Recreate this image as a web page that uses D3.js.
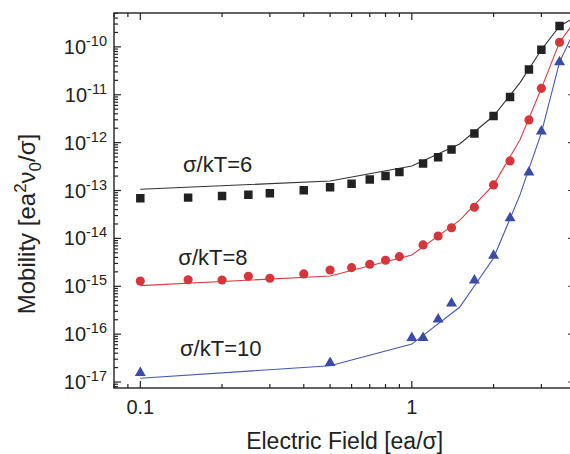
<!DOCTYPE html>
<html>
<head>
<meta charset="utf-8">
<script src="https://cdn.jsdelivr.net/npm/d3@7"></script>
<style>
  html, body { margin: 0; padding: 0; background: #fff; }
  svg { display: block; font-family: "Liberation Sans", Arial, sans-serif; }
</style>
</head>
<body>
<div id="chart"></div>
<script>
// Simulation points (x = electric field)
const fieldSim = [0.1, 0.15, 0.2, 0.25, 0.3, 0.4, 0.5, 0.6, 0.7, 0.8, 0.9, 1.1, 1.25, 1.4, 1.7, 2.0, 2.3, 2.7, 3.0, 3.5];
const mobS6 = [6.9e-14, 7.1e-14, 7.7e-14, 8.2e-14, 8.8e-14, 1.01e-13, 1.17e-13, 1.39e-13, 1.69e-13, 2.0e-13, 2.42e-13,
               3.65e-13, 4.96e-13, 7.15e-13, 1.55e-12, 3.61e-12, 9.0e-12, 3.36e-11, 8.7e-11, 2.72e-10];
const mobS8 = [1.29e-15, 1.37e-15, 1.35e-15, 1.62e-15, 1.47e-15, 1.81e-15, 2.19e-15, 2.45e-15, 2.88e-15, 3.49e-15, 4.16e-15,
               7.3e-15, 1.12e-14, 1.67e-14, 4.47e-14, 1.31e-13, 4.15e-13, 2.98e-12, 1.36e-11, 1.25e-10];
const fieldS10 = [0.1, 0.5, 1.0, 1.1, 1.25, 1.4, 1.7, 2.0, 2.3, 2.7, 3.0, 3.5];
const mobS10 = [1.55e-17, 2.53e-17, 8.4e-17, 8.4e-17, 2.04e-16, 4.41e-16, 1.33e-15, 4.37e-15, 2.64e-14, 2.41e-13, 1.73e-12, 4.79e-11];

// Theory curves
const fieldTh = [0.1, 0.5, 1.0, 1.5, 2.0, 2.5, 3.0, 3.5, 4.0];
const thS6 = [1.06e-13, 1.58e-13, 3.26e-13, 9.4e-13, 3.6e-12, 1.77e-11, 8.7e-11, 2.7e-10, 4.2e-10];
const thS8 = [1.03e-15, 1.64e-15, 4.5e-15, 2.37e-14, 1.31e-13, 1.14e-12, 1.36e-11, 1.25e-10, 3.5e-10];
const thS10 = [1.2e-17, 2.19e-17, 6.2e-17, 3.64e-16, 3.9e-15, 8e-14, 1.6e-12, 4.8e-11, 2.4e-10];

const xMajor = [0.1, 1];
const xTickLabels = ["0.1", "1"];
const yExponents = [-17, -16, -15, -14, -13, -12, -11, -10];
const seriesLabels = ["σ/kT=6", "σ/kT=8", "σ/kT=10"];

const W = 570, H = 454;
const margin = { top: 13, left: 114, bottom: 66 };
const plotRight = 575.3;
const plotBottom = H - margin.bottom;

const svg = d3.select("#chart").append("svg")
    .attr("width", W).attr("height", H);

const xScale = d3.scaleLog().domain([0.08, 4]).range([margin.left, plotRight]);
const yScale = d3.scaleLog().domain([7.5e-18, 5.1e-10]).range([plotBottom, margin.top]);

svg.append("clipPath").attr("id", "clip")
  .append("rect")
    .attr("x", margin.left).attr("y", margin.top)
    .attr("width", plotRight - margin.left).attr("height", plotBottom - margin.top);

// frame
const axisColor = "#222";
svg.append("rect")
    .attr("x", margin.left).attr("y", margin.top)
    .attr("width", plotRight - margin.left).attr("height", plotBottom - margin.top)
    .attr("fill", "none").attr("stroke", axisColor).attr("stroke-width", 1.4);

const isMajor = v => Math.abs(Math.log10(v) - Math.round(Math.log10(v))) < 1e-6;

// ticks (inward on all four sides)
const ticksG = svg.append("g").attr("stroke", axisColor).attr("stroke-width", 1.2);
xScale.ticks().forEach(v => {
    const x = xScale(v), len = isMajor(v) ? 7 : 4;
    ticksG.append("line").attr("x1", x).attr("x2", x).attr("y1", plotBottom).attr("y2", plotBottom - len);
    ticksG.append("line").attr("x1", x).attr("x2", x).attr("y1", margin.top).attr("y2", margin.top + len);
});
yScale.ticks().forEach(v => {
    const y = yScale(v), len = isMajor(v) ? 7 : 4;
    ticksG.append("line").attr("x1", margin.left).attr("x2", margin.left + len).attr("y1", y).attr("y2", y);
    ticksG.append("line").attr("x1", plotRight).attr("x2", plotRight - len).attr("y1", y).attr("y2", y);
});

// tick labels
xMajor.forEach((v, i) => {
    svg.append("text")
        .attr("x", xScale(v)).attr("y", plotBottom + 26)
        .attr("text-anchor", "middle")
        .style("font-size", "20px").attr("fill", "#222")
        .text(xTickLabels[i]);
});
yExponents.forEach(e => {
    const t = svg.append("text")
        .attr("x", 107).attr("y", yScale(Math.pow(10, e)) + 7)
        .attr("text-anchor", "end")
        .style("font-size", "20px").attr("fill", "#222");
    t.append("tspan").text("10");
    t.append("tspan").attr("dy", -8).style("font-size", "14.5px").text(String(e));
});

// axis titles
svg.append("text")
    .attr("x", (margin.left + plotRight) / 2).attr("y", 449)
    .attr("text-anchor", "middle")
    .style("font-size", "23px").attr("fill", "#222")
    .text("Electric Field [ea/σ]");

const yt = svg.append("text")
    .attr("transform", "translate(35, 224) rotate(-90)")
    .attr("text-anchor", "middle")
    .style("font-size", "24px").attr("fill", "#222");
yt.append("tspan").text("Mobility [ea");
yt.append("tspan").attr("dy", -9).style("font-size", "17px").text("2");
yt.append("tspan").attr("dy", 9).text("ν");
yt.append("tspan").attr("dy", 6).style("font-size", "17px").text("0");
yt.append("tspan").attr("dy", -6).text("/σ]");

// series
const series = [
    { sim: fieldSim, simY: mobS6, th: thS6, color: "#222222", line: "#333333", shape: d3.symbolSquare, size: 72 },
    { sim: fieldSim, simY: mobS8, th: thS8, color: "#d6353b", line: "#dc3c42", shape: d3.symbolCircle, size: 66 },
    { sim: fieldS10, simY: mobS10, th: thS10, color: "#3a4ca8", line: "#4557b3", shape: d3.symbolTriangle, size: 52 }
];

const line = d3.line().x(d => xScale(d[0])).y(d => yScale(d[1]));
const plotG = svg.append("g").attr("clip-path", "url(#clip)");

series.forEach(s => {
    plotG.append("path")
        .datum(fieldTh.map((f, i) => [f, s.th[i]]))
        .attr("d", line)
        .attr("fill", "none").attr("stroke", s.line).attr("stroke-width", 1.1);
});
series.forEach(s => {
    plotG.selectAll(null)
        .data(s.sim.map((f, i) => [f, s.simY[i]]))
        .join("path")
        .attr("transform", d => `translate(${xScale(d[0])}, ${yScale(d[1])})`)
        .attr("d", d3.symbol().type(s.shape).size(s.size))
        .attr("fill", s.color);
});

// series labels
const labelPos = [[183, 171.7], [178.3, 265], [180, 356]];
seriesLabels.forEach((txt, i) => {
    svg.append("text")
        .attr("x", labelPos[i][0]).attr("y", labelPos[i][1])
        .style("font-size", "22px").attr("fill", "#222")
        .text(txt);
});
</script>
</body>
</html>
